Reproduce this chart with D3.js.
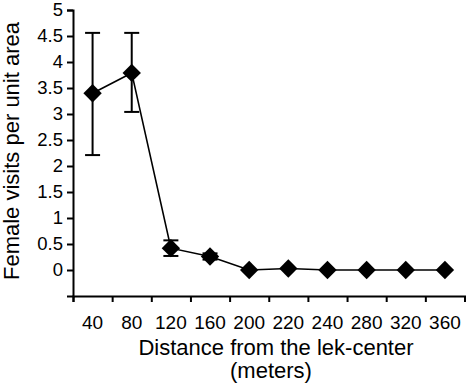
<!DOCTYPE html>
<html><head><meta charset="utf-8">
<script src="https://cdn.jsdelivr.net/npm/d3@7"></script>
<style>body{margin:0;background:#fff}svg{display:block}</style>
</head><body>
<script>
const categories = ["40","80","120","160","200","220","240","280","320","360"];
const values = [3.4, 3.79, 0.42, 0.26, 0.0, 0.03, 0.0, 0.0, 0.0, 0.0];
const errLow = [2.21, 3.04, 0.27, 0.2, 0, 0, 0, 0, 0, 0];
const errHigh = [4.56, 4.56, 0.57, 0.32, 0, 0, 0, 0, 0, 0];
const yTicks = [0,0.5,1,1.5,2,2.5,3,3.5,4,4.5,5];
const yTickLabels = ["0","0.5","1","1.5","2","2.5","3","3.5","4","4.5","5"];

const W = 469, H = 386;
const svg = d3.select("body").append("svg").attr("width", W).attr("height", H);
const font = "Liberation Sans, Arial, sans-serif";

const x = d3.scaleLinear().domain([0, categories.length]).range([73, 464.5]);
const y = d3.scaleLinear().domain([-0.5, 5]).range([296, 10]);

// Y axis
const yAxis = svg.append("g").attr("transform", "translate(73,0)")
  .call(d3.axisLeft(y).tickValues(yTicks).tickFormat((d,i)=>yTickLabels[i]).tickSizeOuter(0).tickSize(6).tickPadding(4));
yAxis.select(".domain").attr("stroke-width", 2);
yAxis.selectAll(".tick line").attr("stroke-width", 2);
yAxis.selectAll("text").attr("font-family", font).attr("font-size", 18.5).attr("fill", "#000");

// X axis
const xAxis = svg.append("g").attr("transform", "translate(0,296)")
  .call(d3.axisBottom(x).tickValues(d3.range(0, categories.length + 1)).tickFormat("").tickSizeOuter(0).tickSize(6));
xAxis.select(".domain").attr("stroke-width", 2);
xAxis.selectAll(".tick line").attr("stroke-width", 2);

svg.append("g").selectAll("text").data(categories).join("text")
  .attr("x", (d,i)=>x(i+0.5)).attr("y", 329)
  .attr("text-anchor", "middle").attr("font-family", font).attr("font-size", 19)
  .text(d=>d);

// Axis titles
svg.append("text").attr("transform", "translate(19,151) rotate(-90)")
  .attr("text-anchor", "middle").attr("font-family", font).attr("font-size", 22)
  .text("Female visits per unit area");
svg.append("text").attr("x", 276).attr("y", 355)
  .attr("text-anchor", "middle").attr("font-family", font).attr("font-size", 22)
  .text("Distance from the lek-center");
svg.append("text").attr("x", 271).attr("y", 378)
  .attr("text-anchor", "middle").attr("font-family", font).attr("font-size", 22)
  .text("(meters)");

// Error bars
const eb = svg.append("g").attr("stroke", "#000").attr("stroke-width", 2);
categories.forEach((c,i)=>{
  if (errHigh[i] - errLow[i] <= 0) return;
  const cx = x(i+0.5);
  eb.append("line").attr("x1", cx).attr("x2", cx).attr("y1", y(errLow[i])).attr("y2", y(errHigh[i]));
  eb.append("line").attr("x1", cx-7.5).attr("x2", cx+7.5).attr("y1", y(errLow[i])).attr("y2", y(errLow[i]));
  eb.append("line").attr("x1", cx-7.5).attr("x2", cx+7.5).attr("y1", y(errHigh[i])).attr("y2", y(errHigh[i]));
});

// Line
const line = d3.line().x((d,i)=>x(i+0.5)).y(d=>y(d));
svg.append("path").datum(values).attr("d", line).attr("fill", "none").attr("stroke", "#000").attr("stroke-width", 1.6);

// Markers
const sym = d3.symbol().type(d3.symbolSquare).size(13*13);
svg.append("g").selectAll("path").data(values).join("path")
  .attr("d", sym)
  .attr("transform", (d,i)=>`translate(${x(i+0.5)},${y(d)}) rotate(45)`)
  .attr("fill", "#000");
</script>
</body></html>
